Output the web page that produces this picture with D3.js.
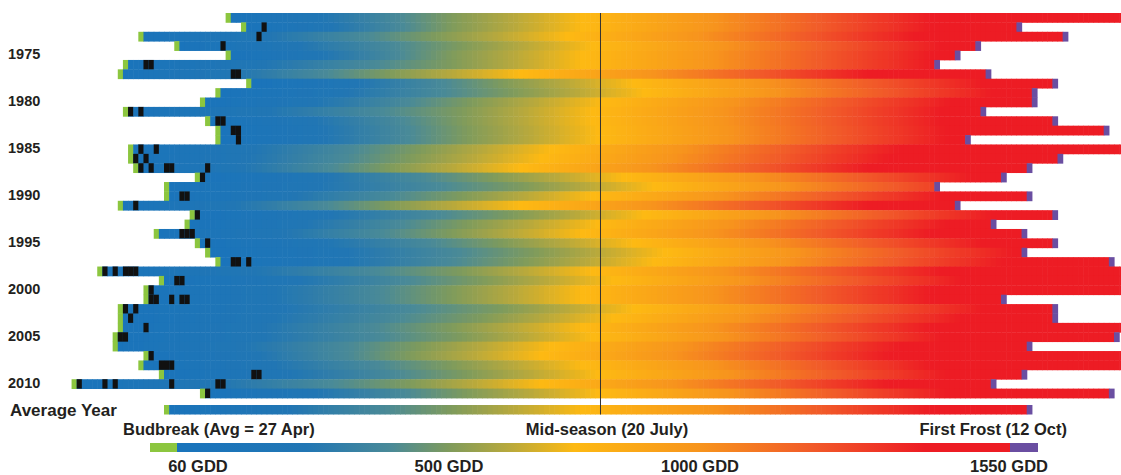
<!DOCTYPE html>
<html>
<head>
<meta charset="utf-8">
<script src="https://cdn.jsdelivr.net/npm/d3@7"></script>
<style>
  html, body { margin: 0; padding: 0; background: #fff; }
  svg { display: block; font-family: Arial, "Liberation Sans", sans-serif; }
</style>
</head>
<body>
<div id="chart"></div>
<script>
// Data (days are day-of-year)
const years = [1971, 1972, 1973, 1974, 1975, 1976, 1977, 1978, 1979, 1980,
               1981, 1982, 1983, 1984, 1985, 1986, 1987, 1988, 1989, 1990,
               1991, 1992, 1993, 1994, 1995, 1996, 1997, 1998, 1999, 2000,
               2001, 2002, 2003, 2004, 2005, 2006, 2007, 2008, 2009, 2010, 2011];

const budbreak = [129, 132, 112, 119, 129, 109, 108, 133, 127, 124,
                  109, 125, 127, 127, 110, 110, 111, 123, 117, 117,
                  108, 122, 121, 115, 123, 125, 127, 104, 116, 113,
                  113, 108, 108, 108, 107, 107, 113, 112, 116,  99, 124];

// first frost; rows running off the right edge are given a late day
const firstFrost = [306, 283, 292, 275, 271, 267, 277, 290, 286, 286,
                    276, 290, 300, 273, 306, 291, 285, 280, 267, 285,
                    271, 290, 278, 284, 290, 284, 301, 306, 306, 306,
                    280, 290, 290, 306, 302, 285, 306, 305, 284, 278, 301];

// how many days later (+) or earlier (-) than average each year built up its heat
const gddShift = [0, 0, -3, 2, 0, 0, -12, 10, 12, 4,
                  2, 2, 3, 3, -6, -8, -12, 8, 14, 2,
                  -12, 12, 3, 0, 10, 16, 14, 2, 6, 0,
                  0, 10, 6, 0, 2, -6, -8, 0, 3, -8, 3];

// frost days after budbreak (black cells): [year, day]
const frostDays = [
  [1972, 136], [1973, 135], [1974, 128], [1976, 113], [1976, 114],
  [1977, 130], [1977, 131], [1981, 110], [1981, 112], [1982, 127], [1982, 128],
  [1983, 130], [1983, 131], [1984, 131], [1985, 112], [1985, 115],
  [1986, 111], [1986, 113], [1987, 112], [1987, 114], [1987, 117], [1987, 118], [1987, 125],
  [1988, 124], [1990, 120], [1990, 121], [1991, 111], [1992, 123],
  [1994, 120], [1994, 121], [1994, 122], [1995, 125],
  [1997, 130], [1997, 131], [1997, 133],
  [1998, 105], [1998, 107], [1998, 109], [1998, 110], [1998, 111],
  [1999, 119], [1999, 120], [2000, 114],
  [2001, 114], [2001, 115], [2001, 118], [2001, 120], [2001, 121],
  [2002, 109], [2002, 111], [2003, 110], [2004, 113], [2005, 108], [2005, 109],
  [2007, 114], [2008, 116], [2008, 117], [2008, 118], [2009, 134], [2009, 135],
  [2010, 100], [2010, 105], [2010, 107], [2010, 118], [2010, 127], [2010, 128],
  [2011, 125]
];

const labelYears = [1975, 1980, 1985, 1990, 1995, 2000, 2005, 2010];

// average year
const avgBudbreak = 117;   // 27 Apr
const avgFrost = 285;      // 12 Oct
const midSeason = 201;     // 20 July

// GDD levels and the day they are reached in the average year
const gddLevels = [60, 500, 1000, 1550];
const avgGddDays = [117, 173, 224, 282];
const gddTickLabels = ["60 GDD", "500 GDD", "1000 GDD", "1550 GDD"];

// colour ramp along GDD
const rampGdd    = [60, 250, 400, 500, 620, 750, 1000, 1200, 1400];
const rampColors = ["#1a74bb", "#2176b4", "#4a8a97", "#7f9b5c", "#b8a93c", "#fdb913", "#f7941d", "#f15a29", "#ed1c24"];

const BUD_COLOR = "#8cc63f";
const FROST_COLOR = "#6a4ea1";
const TEXT_COLOR = "#231f20";

// Dimensions
const width = 1121, height = 475;

const svg = d3.select("#chart").append("svg")
  .attr("width", width)
  .attr("height", height);

// day -> left edge of that day's cell
const x = d3.scaleLinear().domain([avgBudbreak, avgFrost]).range([164, 1026.7]);
const cellW = x(1) - x(0);

const y = d3.scaleBand().domain(years).range([13, 398]);

const gddColor = d3.scaleLinear().domain(rampGdd).range(rampColors).clamp(true);

// legend: GDD -> x
const legendX = d3.scaleLinear().domain(gddLevels).range([198, 449, 700, 1009]).clamp(true);

// cells for one season
function seasonCells(bud, frost, shift) {
  let dayToGdd = d3.scaleLinear()
    .domain([bud, avgGddDays[1] + shift, avgGddDays[2] + shift, avgGddDays[3] + shift])
    .range(gddLevels);
  let cells = [];
  for (let d = bud; d <= frost; d++) {
    let fill;
    if (d === bud) fill = BUD_COLOR;
    else if (d === frost) fill = FROST_COLOR;
    else fill = gddColor(dayToGdd(d + 0.5));
    cells.push({ day: d, fill: fill });
  }
  return cells;
}

function drawSeason(g, cells, y0, h) {
  g.selectAll("rect.cell")
    .data(cells)
    .enter()
    .append("rect")
    .attr("class", "cell")
    .attr("x", d => x(d.day))
    .attr("y", y0)
    .attr("width", cellW + 0.6)
    .attr("height", h)
    .attr("fill", d => d.fill);
}

// Rows, one per year
const rows = svg.append("g").attr("class", "rows");
years.forEach((yr, i) => {
  let g = rows.append("g");
  drawSeason(g, seasonCells(budbreak[i], firstFrost[i], gddShift[i]), y(yr), y.bandwidth() + 0.4);
});

// Frost-day cells
svg.append("g")
  .selectAll("rect")
  .data(frostDays)
  .enter()
  .append("rect")
  .attr("x", d => x(d[1]))
  .attr("y", d => y(d[0]))
  .attr("width", cellW)
  .attr("height", y.bandwidth())
  .attr("fill", "#111");

// Average year bar
const avgY = 405, avgH = 9.5;
drawSeason(svg.append("g"), seasonCells(avgBudbreak, avgFrost, 0), avgY, avgH);

// Mid-season line
svg.append("line")
  .attr("x1", x(midSeason + 1)).attr("x2", x(midSeason + 1))
  .attr("y1", 13).attr("y2", avgY + avgH)
  .attr("stroke", "#333")
  .attr("stroke-width", 1);

// Year labels
svg.append("g")
  .selectAll("text")
  .data(labelYears)
  .enter()
  .append("text")
  .attr("x", 8)
  .attr("y", d => y(d) + y.bandwidth() / 2 + 4)
  .style("font-size", "14.5px")
  .style("font-weight", "bold")
  .style("fill", TEXT_COLOR)
  .text(d => d);

svg.append("text")
  .attr("x", 10).attr("y", 416)
  .style("font-size", "17px").style("font-weight", "bold").style("fill", TEXT_COLOR)
  .text("Average Year");

// Event labels under the average bar
const eventLabels = [
  { text: "Budbreak (Avg = 27 Apr)", x: 123, anchor: "start" },
  { text: "Mid-season (20 July)",    x: 607, anchor: "middle" },
  { text: "First Frost (12 Oct)",    x: 1067, anchor: "end" }
];
svg.append("g")
  .selectAll("text")
  .data(eventLabels)
  .enter()
  .append("text")
  .attr("x", d => d.x)
  .attr("y", 435)
  .attr("text-anchor", d => d.anchor)
  .style("font-size", "16.5px").style("font-weight", "bold").style("fill", TEXT_COLOR)
  .text(d => d.text);

// GDD legend bar
const legY = 443, legH = 9;
const defs = svg.append("defs");
const grad = defs.append("linearGradient")
  .attr("id", "gddGrad")
  .attr("gradientUnits", "userSpaceOnUse")
  .attr("x1", 177).attr("x2", 1010).attr("y1", 0).attr("y2", 0);
grad.selectAll("stop")
  .data(rampGdd)
  .enter()
  .append("stop")
  .attr("offset", d => (legendX(d) - 177) / (1010 - 177))
  .attr("stop-color", d => gddColor(d));

svg.append("rect")
  .attr("x", 150).attr("y", legY).attr("width", 27).attr("height", legH)
  .attr("fill", BUD_COLOR);
svg.append("rect")
  .attr("x", 177).attr("y", legY).attr("width", 1010 - 177).attr("height", legH)
  .attr("fill", "url(#gddGrad)");
svg.append("rect")
  .attr("x", 1010).attr("y", legY).attr("width", 28).attr("height", legH)
  .attr("fill", FROST_COLOR);

svg.append("g")
  .selectAll("text")
  .data(gddLevels)
  .enter()
  .append("text")
  .attr("x", d => legendX(d))
  .attr("y", 472)
  .attr("text-anchor", "middle")
  .style("font-size", "16.5px").style("font-weight", "bold").style("fill", TEXT_COLOR)
  .text((d, i) => gddTickLabels[i]);
</script>
</body>
</html>
